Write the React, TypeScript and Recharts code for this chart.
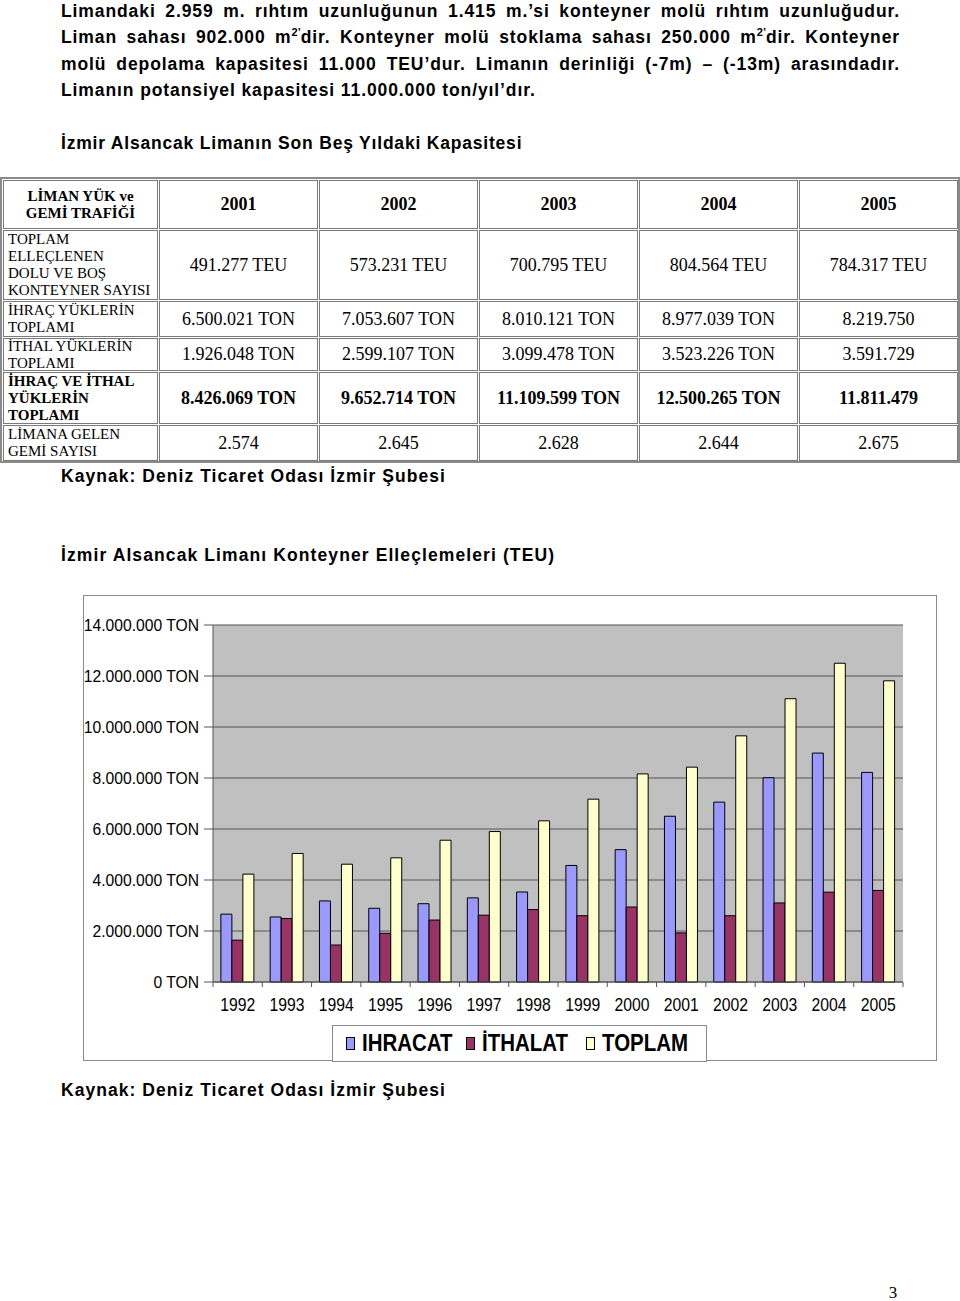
import React from 'react';
import { BarChart, Bar, XAxis, YAxis, CartesianGrid } from 'recharts';

// ---------- Chart data ----------
const years = ['1992', '1993', '1994', '1995', '1996', '1997', '1998', '1999', '2000', '2001', '2002', '2003', '2004', '2005'];
const ihracat = [2660000, 2550000, 3180000, 2890000, 3070000, 3300000, 3530000, 4570000, 5190000, 6500021, 7053607, 8010121, 8977039, 8219750];
const ithalat = [1640000, 2490000, 1450000, 1910000, 2430000, 2620000, 2840000, 2600000, 2940000, 1926048, 2599107, 3099478, 3523226, 3591729];
const toplam = [4230000, 5040000, 4620000, 4870000, 5560000, 5900000, 6320000, 7170000, 8160000, 8426069, 9652714, 11109599, 12500265, 11811479];
const yTicks = [0, 2000000, 4000000, 6000000, 8000000, 10000000, 12000000, 14000000];
const seriesNames = ['IHRACAT', 'İTHALAT', 'TOPLAM'];
const seriesColors = ['#9999FF', '#993366', '#FFFFCC'];

// ---------- Table data ----------
const tableHeader = ['LİMAN YÜK ve', 'GEMİ TRAFİĞİ'];
const tableYears = ['2001', '2002', '2003', '2004', '2005'];
const rowLabels = [
  ['TOPLAM', 'ELLEÇLENEN', 'DOLU VE BOŞ', 'KONTEYNER SAYISI'],
  ['İHRAÇ YÜKLERİN', 'TOPLAMI'],
  ['İTHAL YÜKLERİN', 'TOPLAMI'],
  ['İHRAÇ VE İTHAL', 'YÜKLERİN', 'TOPLAMI'],
  ['LİMANA GELEN', 'GEMİ SAYISI'],
];
const rowBold = [false, false, false, true, false];
const teuRow = ['491.277 TEU', '573.231 TEU', '700.795 TEU', '804.564 TEU', '784.317 TEU'];
const ihracRow = ['6.500.021 TON', '7.053.607 TON', '8.010.121 TON', '8.977.039 TON', '8.219.750'];
const ithalRow = ['1.926.048 TON', '2.599.107 TON', '3.099.478 TON', '3.523.226 TON', '3.591.729'];
const toplamRow = ['8.426.069 TON', '9.652.714 TON', '11.109.599 TON', '12.500.265 TON', '11.811.479'];
const gemiRow = ['2.574', '2.645', '2.628', '2.644', '2.675'];
const tableRows = [teuRow, ihracRow, ithalRow, toplamRow, gemiRow];

// ---------- Page text ----------
const paraLine1 = 'Limandaki 2.959 m. rıhtım uzunluğunun 1.415 m.’si konteyner molü rıhtım uzunluğudur.';
const paraLine2a = 'Liman sahası 902.000 m';
const paraLine2b = 'dir. Konteyner molü stoklama sahası 250.000 m';
const paraLine2c = 'dir. Konteyner';
const paraLine3 = 'molü depolama kapasitesi 11.000 TEU’dur. Limanın derinliği (-7m) – (-13m) arasındadır.';
const paraLine4 = 'Limanın potansiyel kapasitesi 11.000.000 ton/yıl’dır.';
const tableTitle = 'İzmir Alsancak Limanın Son Beş Yıldaki Kapasitesi';
const sourceText = 'Kaynak: Deniz Ticaret Odası İzmir Şubesi';
const chartTitle = 'İzmir Alsancak Limanı Konteyner Elleçlemeleri (TEU)';
const pageNumber = '3';

const SANS = "'Liberation Sans', Arial, Helvetica, sans-serif";
const SERIF = "'Liberation Serif', 'Times New Roman', serif";

const data = years.map((y, i) => ({ year: y, ihracat: ihracat[i], ithalat: ithalat[i], toplam: toplam[i] }));

const fmt = (n: number) => String(n).replace(/\B(?=(\d{3})+(?!\d))/g, '.') + ' TON';

const YTick = (props: any) => {
  const { x, y, payload } = props;
  return (
    <text transform={`translate(${x},${y}) scale(0.98,1)`} x={0} y={0} dy="0.355em" textAnchor="end" fontFamily={SANS} fontSize={16} fill="#000">
      {fmt(payload.value)}
    </text>
  );
};

const XTick = (props: any) => {
  const { x, y, payload, index, visibleTicksCount, width } = props;
  const half = (payload && payload.offset) || width / visibleTicksCount / 2;
  return (
    <g>
      <line x1={x - half} x2={x - half} y1={y - 5} y2={y} stroke="#555" />
      {index === visibleTicksCount - 1 && <line x1={x + half} x2={x + half} y1={y - 5} y2={y} stroke="#555" />}
      <text transform={`translate(${x},${y + 18}) scale(0.9,1)`} x={0} y={0} dy="0.355em" textAnchor="middle" fontFamily={SANS} fontSize={17.5} fill="#000">
        {payload.value}
      </text>
    </g>
  );
};

const sup = (s: string) => (
  <span style={{ fontSize: 11, position: 'relative', top: -7, lineHeight: 0, letterSpacing: 0 }}>{s}</span>
);

const colX = [3, 159, 319, 479, 639, 799];
const colW = [155, 159, 159, 159, 159, 159];
const rowY = [180, 230, 301, 338, 372, 425];
const rowH = [49, 70, 36, 33, 52, 36];
const legendGap = [16, 12, 0];
const legendSlot = [88, 92, 94];

const cellBase: React.CSSProperties = {
  position: 'absolute',
  boxSizing: 'border-box',
  border: '1px solid #7a7a7a',
  display: 'flex',
  flexDirection: 'column',
  justifyContent: 'center',
  fontFamily: SERIF,
  color: '#000',
  whiteSpace: 'nowrap',
};

export default function App() {
  const cells: React.ReactNode[] = [];
  cells.push(
    <div key="h0" style={{ ...cellBase, left: colX[0], top: rowY[0], width: colW[0], height: rowH[0], alignItems: 'center', fontWeight: 'bold', fontSize: 15, lineHeight: '17px' }}>
      {tableHeader.map((l) => <div key={l}>{l}</div>)}
    </div>
  );
  tableYears.forEach((yr, c) => {
    cells.push(
      <div key={'hy' + c} style={{ ...cellBase, left: colX[c + 1], top: rowY[0], width: colW[c + 1], height: rowH[0], alignItems: 'center', fontWeight: 'bold', fontSize: 18 }}>
        {yr}
      </div>
    );
  });
  tableRows.forEach((row, r) => {
    cells.push(
      <div key={'l' + r} style={{ ...cellBase, left: colX[0], top: rowY[r + 1], width: colW[0], height: rowH[r + 1], alignItems: 'flex-start', paddingLeft: 4, fontSize: 15, lineHeight: '17px', fontWeight: rowBold[r] ? 'bold' : 'normal' }}>
        {rowLabels[r].map((l) => <div key={l}>{l}</div>)}
      </div>
    );
    row.forEach((v, c) => {
      cells.push(
        <div key={'v' + r + '_' + c} style={{ ...cellBase, left: colX[c + 1], top: rowY[r + 1], width: colW[c + 1], height: rowH[r + 1], alignItems: 'center', fontSize: 18, fontWeight: rowBold[r] ? 'bold' : 'normal' }}>
          {v}
        </div>
      );
    });
  });

  const lineStyle = (top: number, justify: boolean): React.CSSProperties => ({
    position: 'absolute',
    left: 61,
    top,
    width: 839,
    fontFamily: SANS,
    fontWeight: 'bold',
    fontSize: 17.5,
    letterSpacing: 0.9,
    lineHeight: '20px',
    textAlign: justify ? 'justify' : 'left',
    textAlignLast: justify ? 'justify' : 'auto',
    color: '#000',
  } as React.CSSProperties);

  const headStyle = (top: number, ls: number): React.CSSProperties => ({
    position: 'absolute',
    left: 61,
    top,
    fontFamily: SANS,
    fontWeight: 'bold',
    fontSize: 17.5,
    letterSpacing: ls,
    lineHeight: '20px',
    whiteSpace: 'nowrap',
    color: '#000',
  });

  return (
    <div style={{ position: 'absolute', left: 0, top: 0, width: 960, height: 1301, background: '#fff', overflow: 'hidden' }}>
      <div style={lineStyle(1, true)}>{paraLine1}</div>
      <div style={lineStyle(27, true)}>
        {paraLine2a}{sup('2’')}{paraLine2b}{sup('2’')}{paraLine2c}
      </div>
      <div style={lineStyle(54, true)}>{paraLine3}</div>
      <div style={lineStyle(80, false)}>{paraLine4}</div>

      <div style={headStyle(133, 0.8)}>{tableTitle}</div>

      <div style={{ position: 'absolute', left: 0, top: 177, width: 960, height: 286, boxSizing: 'border-box', border: '2px solid #8a8a8a' }} />
      {cells}

      <div style={headStyle(466, 1.05)}>{sourceText}</div>
      <div style={headStyle(545, 1.1)}>{chartTitle}</div>

      <div style={{ position: 'absolute', left: 83, top: 595, width: 854, height: 466 }}>
        <BarChart
          width={854}
          height={466}
          data={data}
          margin={{ top: 30, right: 34, left: 0, bottom: 0 }}
          barCategoryGap="16%"
          barGap={0}
          style={{ fontFamily: SANS }}
        >
          <CartesianGrid vertical={false} fill="#C0C0C0" stroke="#555" strokeOpacity={1} />
          <XAxis
            dataKey="year"
            height={79}
            tickLine={false}
            tickSize={5}
            tickMargin={0}
            axisLine={{ stroke: '#555' }}
            interval={0}
            tick={<XTick />}
          />
          <YAxis
            width={130}
            domain={[0, 14000000]}
            ticks={yTicks}
            interval={0}
            tickSize={9}
            tickMargin={5}
            tickLine={{ stroke: '#555' }}
            axisLine={{ stroke: '#555' }}
            tick={<YTick />}
          />
          <Bar dataKey="ihracat" name={seriesNames[0]} fill={seriesColors[0]} stroke="#000" strokeWidth={1} isAnimationActive={false} />
          <Bar dataKey="ithalat" name={seriesNames[1]} fill={seriesColors[1]} stroke="#000" strokeWidth={1} isAnimationActive={false} />
          <Bar dataKey="toplam" name={seriesNames[2]} fill={seriesColors[2]} stroke="#000" strokeWidth={1} isAnimationActive={false} />
        </BarChart>
        <div style={{ position: 'absolute', inset: 0, border: '1px solid #8a8a8a', pointerEvents: 'none' }} />
      </div>

      <div
        style={{
          position: 'absolute',
          left: 332,
          top: 1025,
          width: 375,
          height: 37,
          boxSizing: 'border-box',
          border: '1px solid #8a8a8a',
          background: '#fff',
          display: 'flex',
          alignItems: 'center',
          paddingLeft: 13,
          fontFamily: SANS,
          fontWeight: 'bold',
          fontSize: 23,
          whiteSpace: 'nowrap',
          overflow: 'hidden',
        }}
      >
        {seriesNames.map((n, i) => (
          <div key={n} style={{ display: 'flex', alignItems: 'center', marginRight: legendGap[i] }}>
            <span style={{ display: 'inline-block', width: 9, height: 13, boxSizing: 'border-box', border: '1px solid #000', background: seriesColors[i], marginRight: 7 }} />
            <span style={{ display: 'inline-block', width: 0 }}>
              <span style={{ display: 'inline-block', transform: 'scaleX(0.89)', transformOrigin: 'left center' }}>{n}</span>
            </span>
            <span style={{ display: 'inline-block', width: legendSlot[i] }} />
          </div>
        ))}
      </div>

      <div style={headStyle(1080, 1.05)}>{sourceText}</div>

      <div style={{ position: 'absolute', left: 880, top: 1283, width: 26, textAlign: 'center', fontFamily: SERIF, fontSize: 17, lineHeight: '20px' }}>
        {pageNumber}
      </div>
    </div>
  );
}
